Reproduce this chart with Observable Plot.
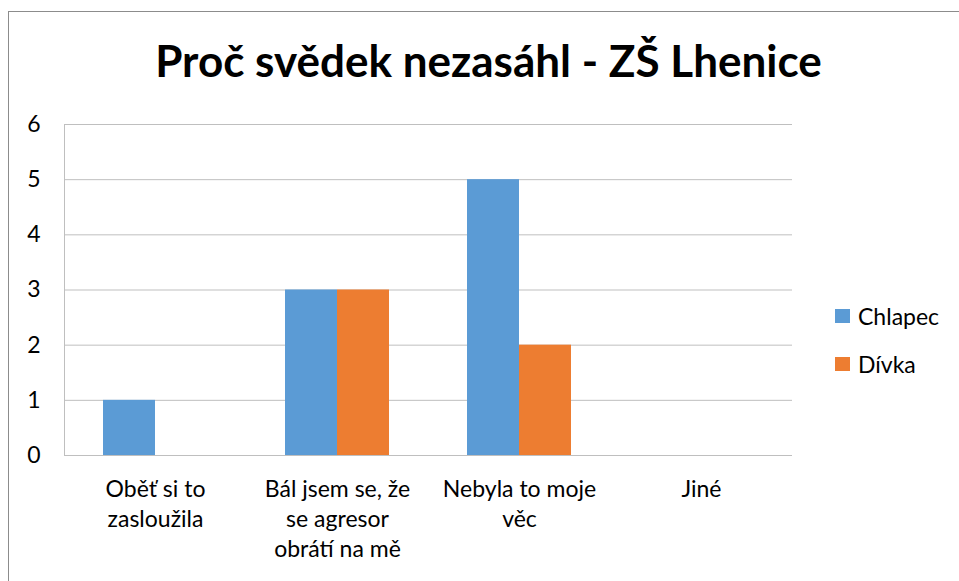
<!DOCTYPE html>
<html><head><meta charset="utf-8">
<script src="https://cdn.jsdelivr.net/npm/d3@7"></script>
<script src="https://cdn.jsdelivr.net/npm/@observablehq/plot@0.6"></script>
<style>
body{margin:0;background:#fff;font-family:Lato,"Open Sans",sans-serif;}
#wrap{position:relative;width:959px;height:581px;overflow:hidden;}
#border{position:absolute;left:8px;top:11px;width:2000px;height:2000px;border-left:1px solid #8c8c8c;border-top:1px solid #8c8c8c;}
#title{position:absolute;left:0;width:977px;top:34px;text-align:center;font-weight:bold;font-size:44px;color:#000;}
.leg{position:absolute;left:835px;font-size:23px;color:#000;display:flex;align-items:center;}
.sw{width:15px;height:14px;margin-right:8px;}
#plot{position:absolute;left:0;top:0;}
</style></head>
<body><div id="wrap"><div id="border"></div><div id="plot"></div>
<div id="title">Proč svědek nezasáhl - ZŠ Lhenice</div>
<div class="leg" style="top:302px"><div class="sw" style="background:#5B9BD5"></div>Chlapec</div>
<div class="leg" style="top:350px"><div class="sw" style="background:#ED7D31"></div>Dívka</div>
</div>
<script>
const categories = ["Oběť si to zasloužila", "Bál jsem se, že se agresor obrátí na mě", "Nebyla to moje věc", "Jiné"];
const labels = ["Oběť si to\nzasloužila", "Bál jsem se, že\nse agresor\nobrátí na mě", "Nebyla to moje\nvěc", "Jiné"];
const chlapec = [1, 3, 5, 0];
const divka = [0, 3, 2, 0];
const yTicks = [0, 1, 2, 3, 4, 5, 6];

const dataC = categories.map((c, i) => ({cat: c, v: chlapec[i]}));
const dataD = categories.map((c, i) => ({cat: c, v: divka[i]}));
const labData = categories.map((c, i) => ({cat: c, t: labels[i]}));

const chart = Plot.plot({
  width: 959, height: 581,
  marginLeft: 64, marginRight: 167, marginTop: 124, marginBottom: 126,
  style: {fontFamily: "Lato, 'Open Sans', sans-serif", fontSize: "23px", color: "#000", background: "transparent"},
  x: {domain: categories, paddingInner: 1 - 52/182, paddingOuter: (1 - 52/182)/2, axis: null},
  y: {domain: [0, 6], ticks: yTicks, tickSize: 0, tickPadding: 24, tickFormat: d => d, label: null},
  marks: [
    Plot.gridY(yTicks, {stroke: "#bfbfbf", strokeOpacity: 1}),
    Plot.barY(dataC, {x: "cat", y: "v", fill: "#5B9BD5", dx: -26}),
    Plot.barY(dataD, {x: "cat", y: "v", fill: "#ED7D31", dx: 26}),
    Plot.frame({anchor: "left", stroke: "#bfbfbf"}),
    Plot.ruleY([0], {stroke: "#bfbfbf"}),
    Plot.text(labData, {x: "cat", text: "t", frameAnchor: "bottom", lineAnchor: "top", dy: 20, lineHeight: 1.3, fontSize: 23, fill: "#000"})
  ]
});
document.getElementById("plot").appendChild(chart);
</script>
</body></html>
